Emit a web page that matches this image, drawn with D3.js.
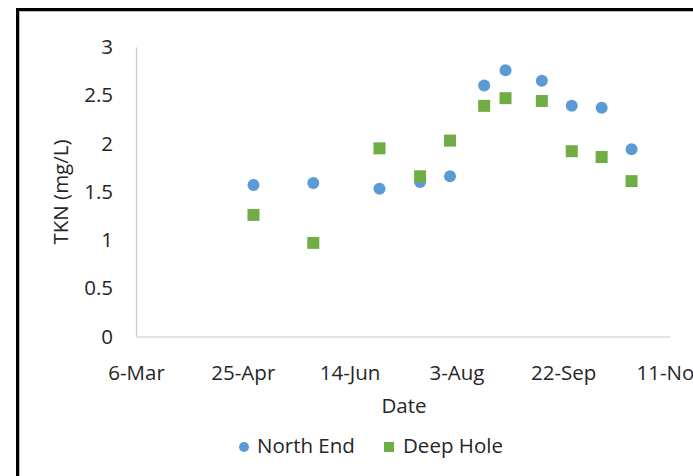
<!DOCTYPE html>
<html>
<head>
<meta charset="utf-8">
<script src="https://cdn.jsdelivr.net/npm/d3@7"></script>
<style>
  html, body { margin: 0; padding: 0; background: #fff; }
  svg { display: block; }
  text { font-family: "Open Sans", "Lato", sans-serif; fill: #262626; }
</style>
</head>
<body>
<svg id="chart" width="693" height="476"></svg>
<script>
// ---- data ----
const dates = ["2015-04-30","2015-05-28","2015-06-28","2015-07-17","2015-07-31",
               "2015-08-16","2015-08-26","2015-09-12","2015-09-26","2015-10-10","2015-10-24"];
const northEnd = [1.57, 1.59, 1.53, 1.60, 1.66, 2.60, 2.76, 2.65, 2.39, 2.37, 1.94];
const deepHole = [1.26, 0.97, 1.95, 1.66, 2.03, 2.39, 2.47, 2.44, 1.92, 1.86, 1.61];
const xTickLabels = ["6-Mar","25-Apr","14-Jun","3-Aug","22-Sep","11-Nov"];
const yTicks = [0, 0.5, 1, 1.5, 2, 2.5, 3];
const seriesNames = ["North End", "Deep Hole"];
const seriesColors = ["#5B9BD5", "#70AD47"];

const parse = d3.timeParse("%Y-%m-%d");
const svg = d3.select("#chart");
const FS = "20.5px";

// frame
svg.append("rect").attr("x", 17.5).attr("y", 9.5).attr("width", 720).attr("height", 520)
  .attr("fill", "#fff").attr("stroke", "#000").attr("stroke-width", 3);
svg.append("rect").attr("x", 19.5).attr("y", 11.5).attr("width", 720).attr("height", 520)
  .attr("fill", "none").attr("stroke", "#bdbdbd").attr("stroke-width", 1);

const x = d3.scaleTime()
  .domain([parse("2015-03-06"), parse("2015-11-11")])
  .range([136, 670]);
const y = d3.scaleLinear().domain([0, 3]).range([336.5, 47]);

const xTickDates = d3.timeDay.every(1).range(parse("2015-03-06"), parse("2015-11-12"))
  .filter((d, i) => i % 50 === 0);

// y axis
const yAxis = d3.axisLeft(y).tickValues(yTicks).tickSize(0).tickPadding(23)
  .tickFormat(d3.format("~g"));
const gy = svg.append("g").attr("transform", "translate(136,0)").call(yAxis);
gy.select(".domain").attr("stroke", "#c8c8c8").attr("stroke-width", 1.2);
gy.selectAll("text").style("font-size", FS).attr("fill", "#262626")
  .style("font-family", "'Open Sans', sans-serif");

// x axis
const xAxis = d3.axisBottom(x).tickValues(xTickDates).tickSize(0).tickPadding(29)
  .tickFormat((d, i) => xTickLabels[i]);
const gx = svg.append("g").attr("transform", "translate(0,336.5)").call(xAxis);
gx.select(".domain").attr("stroke", "#c8c8c8").attr("stroke-width", 1.2);
gx.selectAll("text").style("font-size", FS).attr("fill", "#262626")
  .style("font-family", "'Open Sans', sans-serif");

// axis titles
svg.append("text").attr("transform", "translate(63,192) rotate(-90)")
  .attr("text-anchor", "middle").attr("dominant-baseline", "middle")
  .style("font-size", FS).text("TKN (mg/L)");
svg.append("text").attr("x", 404).attr("y", 408)
  .attr("text-anchor", "middle").attr("dominant-baseline", "middle")
  .style("font-size", FS).text("Date");

// series
const r = 6, s = 12;
svg.append("g").selectAll("circle").data(northEnd).join("circle")
  .attr("cx", (d, i) => x(parse(dates[i]))).attr("cy", d => y(d))
  .attr("r", r).attr("fill", seriesColors[0]);
svg.append("g").selectAll("rect").data(deepHole).join("rect")
  .attr("x", (d, i) => x(parse(dates[i])) - s / 2).attr("y", d => y(d) - s / 2)
  .attr("width", s).attr("height", s).attr("fill", seriesColors[1]);

// legend
const lg = svg.append("g");
lg.append("circle").attr("cx", 244).attr("cy", 447).attr("r", 5).attr("fill", seriesColors[0]);
lg.append("text").attr("x", 257).attr("y", 448).attr("dominant-baseline", "middle")
  .style("font-size", FS).text(seriesNames[0]);
lg.append("rect").attr("x", 384).attr("y", 442).attr("width", 10).attr("height", 10)
  .attr("fill", seriesColors[1]);
lg.append("text").attr("x", 403).attr("y", 448).attr("dominant-baseline", "middle")
  .style("font-size", FS).text(seriesNames[1]);
</script>
</body>
</html>
